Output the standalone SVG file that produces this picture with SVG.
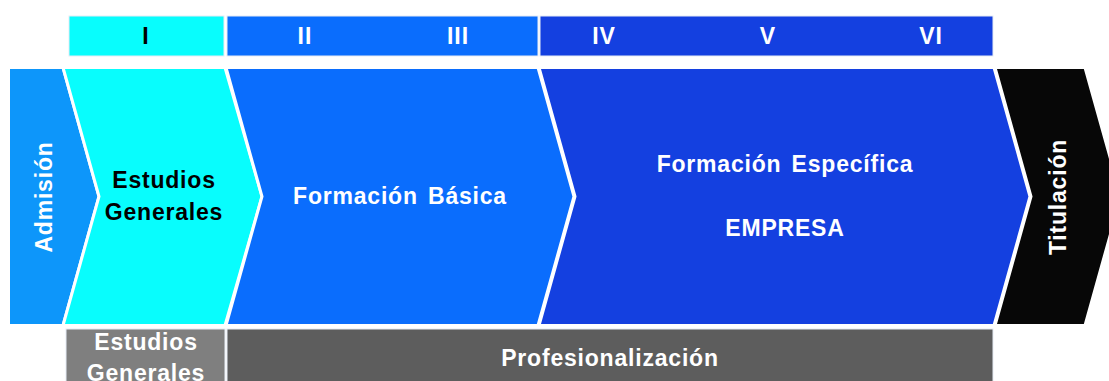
<svg xmlns="http://www.w3.org/2000/svg" width="1109" height="381" viewBox="0 0 1109 381">
<style>
.t{font-family:"Liberation Sans",Arial,sans-serif;font-weight:bold;font-size:23px;letter-spacing:0.8px;text-anchor:middle;word-spacing:3px}
.w{fill:#ffffff}
.k{fill:#000000}
.n{font-size:23px;letter-spacing:1px}
.box{stroke:#e6ecf5;stroke-width:1}
.chev{stroke:#ffffff;stroke-width:3;stroke-linejoin:miter}
</style>
<rect width="1109" height="381" fill="#ffffff"/>
<g id="sem-I">
<rect class="box" x="69" y="16" width="155" height="40" fill="#08fdfd"/>
<text class="t n k" x="146" y="44">I</text>
</g>
<g id="sem-II-III">
<rect class="box" x="227" y="16" width="311" height="40" fill="#0a6dfd"/>
<text class="t n w" x="305" y="44">II</text>
<text class="t n w" x="458" y="44">III</text>
</g>
<g id="sem-IV-VI">
<rect class="box" x="540" y="16" width="453" height="40" fill="#1440e0"/>
<text class="t n w" x="604" y="44">IV</text>
<text class="t n w" x="768" y="44">V</text>
<text class="t n w" x="931" y="44">VI</text>
</g>
<g id="admision">
<polygon class="chev" points="8.5,67.5 63,67.5 99,196.5 63,325.5 8.5,325.5" fill="#0d96fa"/>
<text class="t w" transform="translate(52,197) rotate(-90)">Admisión</text>
</g>
<g id="estudios-generales">
<polygon class="chev" points="63,67.5 225,67.5 262,196.5 225,325.5 63,325.5 99,196.5" fill="#08fdfd"/>
<text class="t k" x="164" y="188">Estudios</text>
<text class="t k" x="164" y="220">Generales</text>
</g>
<g id="formacion-basica">
<polygon class="chev" points="226,67.5 538,67.5 574,196.5 538,325.5 226,325.5 262,196.5" fill="#0a6dfd"/>
<text class="t w" x="400" y="204">Formación Básica</text>
</g>
<g id="formacion-especifica">
<polygon class="chev" points="539,67.5 994,67.5 1030,196.5 994,325.5 539,325.5 575,196.5" fill="#1440e0"/>
<text class="t w" x="785" y="172">Formación Específica</text>
<text class="t w" x="785" y="236">EMPRESA</text>
</g>
<g id="titulacion">
<polygon class="chev" points="995,67.5 1085,67.5 1121,196.5 1085,325.5 995,325.5 1031,196.5" fill="#070707"/>
<text class="t w" transform="translate(1066,197) rotate(-90)">Titulación</text>
</g>
<g id="estudios-generales-bottom">
<rect class="box" x="66" y="329" width="159" height="60" fill="#7f7f7f"/>
<text class="t w" x="146" y="350">Estudios</text>
<text class="t w" x="146" y="381">Generales</text>
</g>
<g id="profesionalizacion">
<rect class="box" x="227" y="329" width="766" height="60" fill="#5d5d5d"/>
<text class="t w" x="610" y="366">Profesionalización</text>
</g>
<g id="connectors"></g>
</svg>
